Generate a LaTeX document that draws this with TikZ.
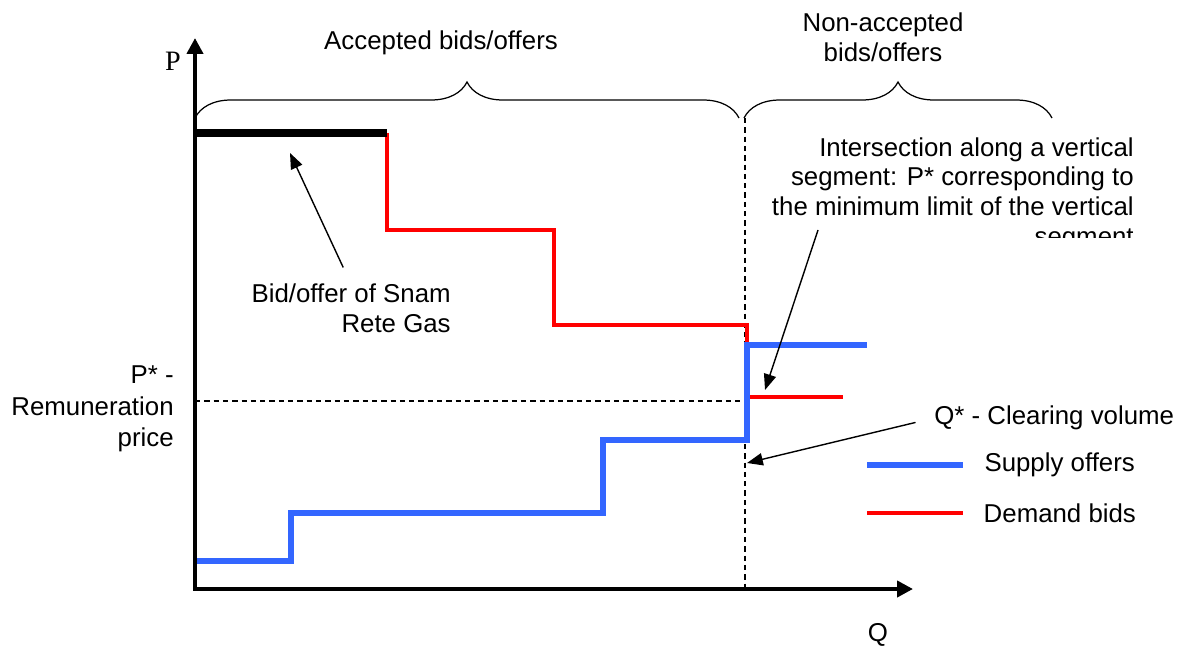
\documentclass[tikz,border=0pt]{standalone}
\usepackage{fontspec}
\setmainfont{Liberation Sans}
\newfontfamily\axisfont{Liberation Serif}
\usetikzlibrary{arrows.meta,decorations.pathreplacing}

\begin{document}
\begin{tikzpicture}[x=0.02cm, y=-0.02cm,
  font=\fontsize{14.7pt}{17pt}\selectfont,
  axis/.style={line width=2.3pt, {Triangle[length=9pt,width=9pt]}-{Triangle[length=9pt,width=9pt]}},
  guide/.style={line width=0.7pt, dash pattern=on 3pt off 2.3pt},
  span/.style={line width=0.7pt, decorate, decoration={brace, amplitude=0.72cm}},
  supply/.style={line width=2.9pt, draw={rgb,255:red,51;green,102;blue,255}},
  demand/.style={line width=2pt, draw=red},
  snambid/.style={line width=4.5pt, draw=black},
  pointer/.style={line width=0.8pt, -{Triangle[length=9pt,width=7pt]}},
  note/.style={inner sep=0pt},
  align=center]

  \useasboundingbox (0,0) rectangle (1192,645);

  % guide lines for P* and Q*
  \draw[guide] (745,118) -- (745,589);
  \draw[guide] (195,401) -- (745,401);

  % demand bids
  \draw[demand] (387,133) -- (387,230) -- (554,230) -- (554,325) -- (747,325) -- (747,343);
  \draw[demand] (750,397) -- (843,397);

  % supply offers
  \draw[supply] (195,561) -- (291,561) -- (291,513) -- (603,513) -- (603,440)
    -- (747,440) -- (747,345) -- (867,345);

  \draw[snambid] (195,133) -- (387,133);

  \draw[axis] (195,38) -- (195,589) -- (913,589);
  \node[note] (p) at (173,61) {\axisfont\fontsize{16pt}{18pt}\selectfont P};
  \node[note] (q) at (878,635) {Q};

  % braces
  \draw[span] (195,118) -- (739,118);
  \draw[span] (744,118) -- (1052,118);
  \node[note] (accepted) at (441,43) {Accepted bids/offers};
  \node[note] (rejected) at (883,37) {Non-accepted\\bids/offers};

  \node[note, align=right, anchor=east, font=\fontsize{14.7pt}{17.8pt}\selectfont] (pstar) at (174,409) {P* -\\Remuneration\\price};
  \node[note, align=right, anchor=east] (snam) at (451,308) {Bid/offer of Snam\\Rete Gas};
  \begin{scope}
    \clip (700,120) rectangle (1192,237);
    \node[note, align=right, anchor=north east] (cross) at (1134,137)
      {Intersection along a vertical\\segment: P* corresponding to\\the minimum limit of the vertical\\segment};
  \end{scope}
  \node[note, anchor=west] (qstar) at (934,418) {Q* - Clearing volume};

  \coordinate (bar tip) at (290,153);
  \coordinate (cross tail) at (818,230);
  \coordinate (cross tip) at (765,390);
  \coordinate (qstar tip) at (747,463);
  \draw[pointer] ([xshift=-4.5pt,yshift=9pt]snam.north) -- (bar tip);
  \draw[pointer] (cross tail) -- (cross tip);
  \draw[pointer, shorten <=10.8pt] (qstar.west) -- (qstar tip);

  % legend
  \draw[supply] (867,465) -- (963,465) node[note, anchor=west, xshift=10.8pt] (supply key) {Supply offers};
  \draw[demand] (867,513) -- (963,513) node[note, anchor=west, xshift=10.8pt] (demand key) {Demand bids};
\end{tikzpicture}
\end{document}
